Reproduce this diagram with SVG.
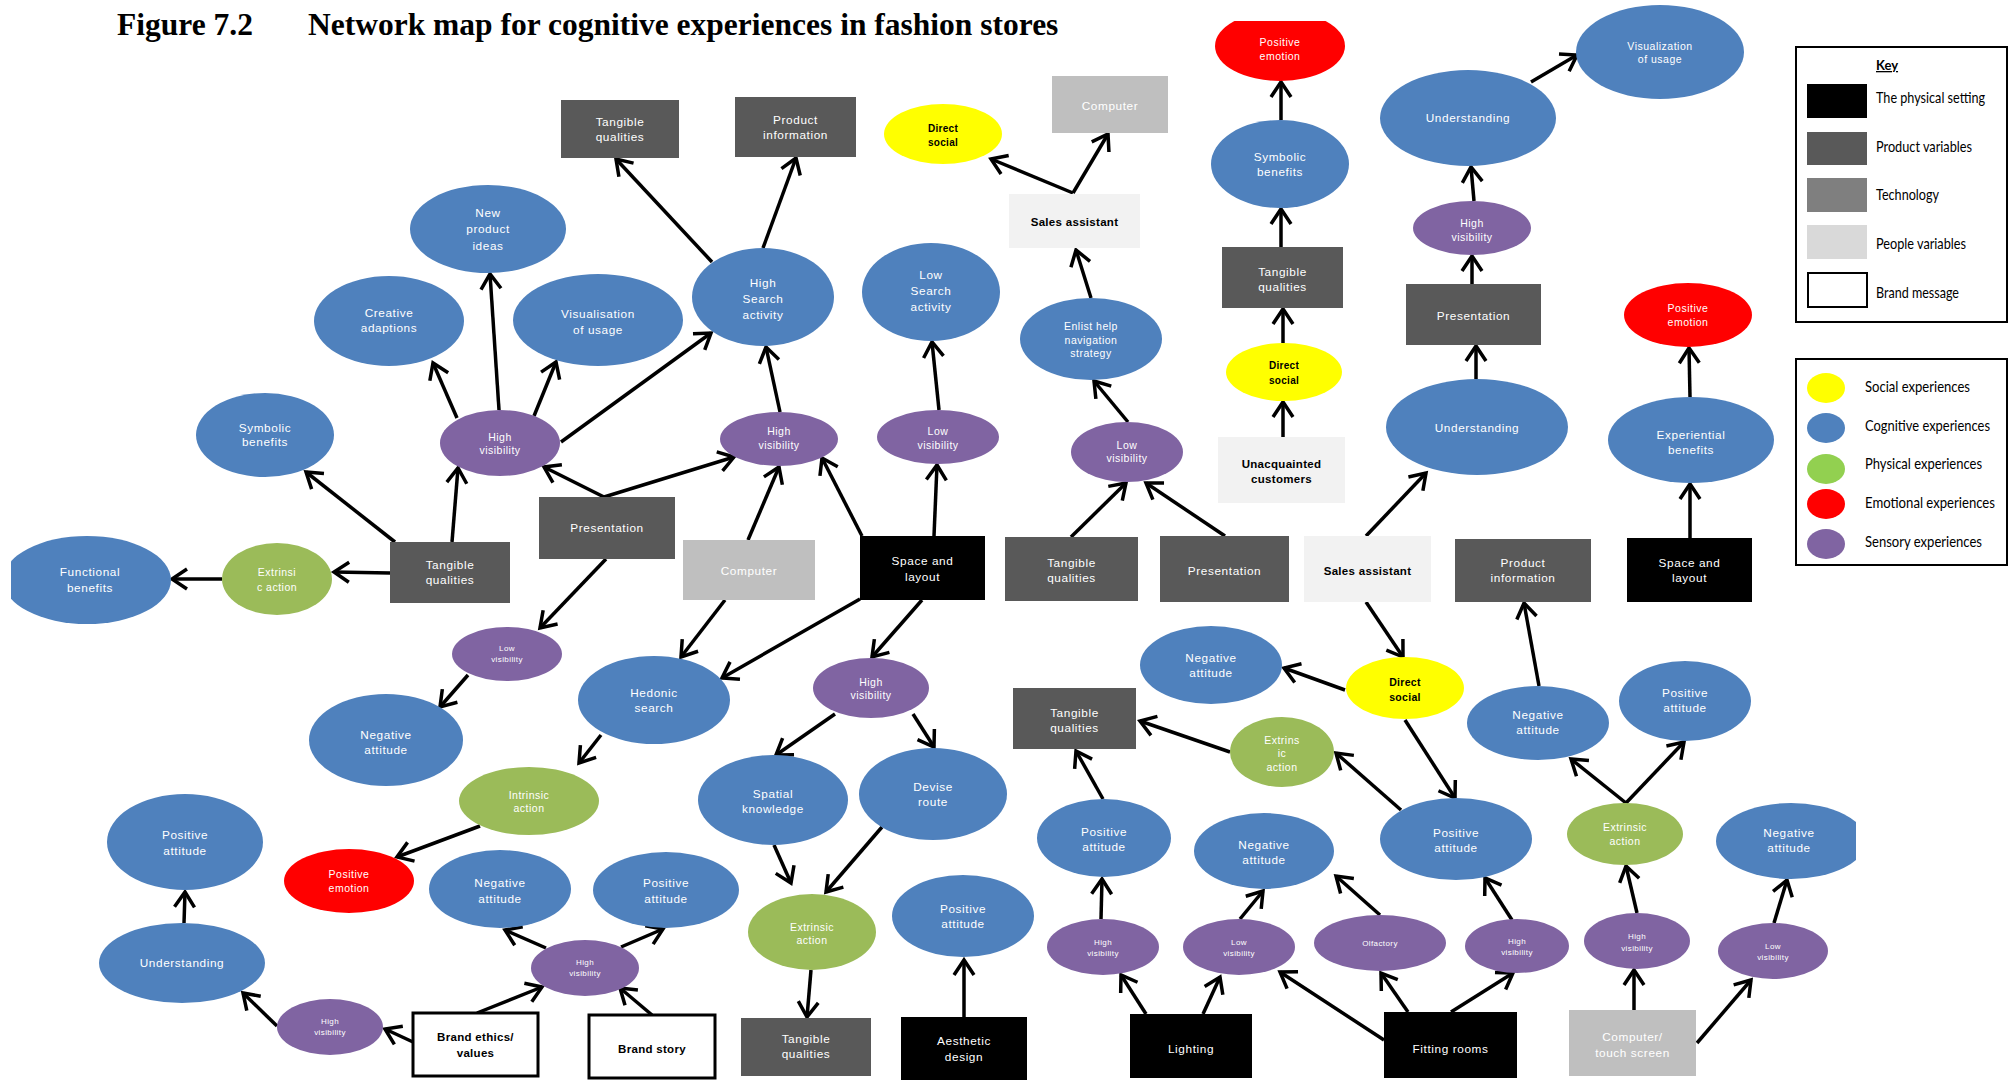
<svg xmlns="http://www.w3.org/2000/svg" width="2013" height="1081" viewBox="0 0 2013 1081">
<style>
  .b{fill:#4f81bd}.p{fill:#8064a2}.g{fill:#9bbb59}.r{fill:#ff0000}.y{fill:#ffff00}
  .pv{fill:#595959}.tech{fill:#bfbfbf}.ppl{fill:#f2f2f2}.phys{fill:#000}
  .brand{fill:#fff;stroke:#000;stroke-width:3}
  text{font-family:"Liberation Sans",Arial,sans-serif;text-anchor:middle}
  .t{fill:#fff;font-size:11.8px;letter-spacing:.6px}
  .ts{fill:#fff;font-size:10.5px;letter-spacing:.5px}
  .tt{fill:#fff;font-size:8px;letter-spacing:.4px}
  .d{fill:#000;font-size:11.5px;font-weight:bold;letter-spacing:.3px}
  .title{font-family:"Liberation Serif","Times New Roman",serif;font-weight:bold;font-size:31.5px;text-anchor:start;fill:#000}
  .lg{font-family:Lato,"Liberation Sans",sans-serif;font-size:15px;text-anchor:start;fill:#000}
  #connectors line{stroke:#000;stroke-width:3.5;fill:none;marker-end:url(#arr)}
</style>
<defs>
  <marker id="arr" markerUnits="userSpaceOnUse" viewBox="-20 -14 24 28" markerWidth="24" markerHeight="28" refX="0" refY="0" orient="auto" overflow="visible">
    <path d="M-15,-10 L0,0 L-15,10" fill="none" stroke="#000" stroke-width="3.5"/>
  </marker>
  <clipPath id="clipTop"><rect x="0" y="21" width="2013" height="1060"/></clipPath>
  <clipPath id="clipLeft"><rect x="11" y="0" width="2002" height="1081"/></clipPath>
  <clipPath id="clipRight"><rect x="0" y="0" width="1856" height="1081"/></clipPath>
</defs>

<rect width="2013" height="1081" fill="#fff"/>

<g id="title">
  <text class="title" x="117" y="35">Figure 7.2</text>
  <text class="title" x="308" y="35">Network map for cognitive experiences in fashion stores</text>
</g>

<!-- connectors -->
<g id="connectors">
  <line x1="712" y1="262" x2="616" y2="159"/>
  <line x1="763" y1="248" x2="796" y2="158"/>
  <line x1="1073" y1="193" x2="991" y2="159"/>
  <line x1="1073" y1="193" x2="1108" y2="134"/>
  <line x1="1091" y1="298" x2="1076" y2="250"/>
  <line x1="1281" y1="120" x2="1281" y2="82"/>
  <line x1="1281" y1="247" x2="1281" y2="209"/>
  <line x1="1283" y1="343" x2="1283" y2="309"/>
  <line x1="1283" y1="437" x2="1283" y2="402"/>
  <line x1="1474" y1="201" x2="1471" y2="167"/>
  <line x1="1472" y1="284" x2="1472" y2="256"/>
  <line x1="1476" y1="379" x2="1476" y2="346"/>
  <line x1="1531" y1="82" x2="1577" y2="55"/>
  <line x1="1690" y1="538" x2="1690" y2="484"/>
  <line x1="1690" y1="397" x2="1689" y2="348"/>
  <line x1="499" y1="410" x2="490" y2="274"/>
  <line x1="457" y1="418" x2="433" y2="363"/>
  <line x1="534" y1="416" x2="556" y2="362"/>
  <line x1="561" y1="442" x2="711" y2="333"/>
  <line x1="780" y1="412" x2="766" y2="347"/>
  <line x1="939" y1="410" x2="932" y2="342"/>
  <line x1="604" y1="497" x2="544" y2="467"/>
  <line x1="604" y1="497" x2="734" y2="457"/>
  <line x1="606" y1="559" x2="540" y2="628"/>
  <line x1="395" y1="542" x2="306" y2="472"/>
  <line x1="452" y1="542" x2="458" y2="468"/>
  <line x1="390" y1="573" x2="334" y2="572"/>
  <line x1="222" y1="579" x2="172" y2="579"/>
  <line x1="748" y1="540" x2="779" y2="467"/>
  <line x1="725" y1="600" x2="681" y2="657"/>
  <line x1="862" y1="536" x2="822" y2="458"/>
  <line x1="934" y1="536" x2="937" y2="465"/>
  <line x1="860" y1="599" x2="722" y2="678"/>
  <line x1="922" y1="600" x2="872" y2="657"/>
  <line x1="1128" y1="422" x2="1094" y2="381"/>
  <line x1="1071" y1="537" x2="1126" y2="483"/>
  <line x1="1225" y1="536" x2="1146" y2="483"/>
  <line x1="1366" y1="536" x2="1426" y2="473"/>
  <line x1="1366" y1="602" x2="1403" y2="657"/>
  <line x1="1345" y1="690" x2="1284" y2="668"/>
  <line x1="1539" y1="686" x2="1524" y2="603"/>
  <line x1="468" y1="675" x2="440" y2="707"/>
  <line x1="601" y1="735" x2="579" y2="763"/>
  <line x1="480" y1="826" x2="397" y2="857"/>
  <line x1="835" y1="714" x2="776" y2="755"/>
  <line x1="913" y1="714" x2="934" y2="747"/>
  <line x1="774" y1="845" x2="791" y2="883"/>
  <line x1="882" y1="827" x2="826" y2="892"/>
  <line x1="811" y1="970" x2="807" y2="1017"/>
  <line x1="964" y1="1017" x2="964" y2="960"/>
  <line x1="184" y1="923" x2="185" y2="892"/>
  <line x1="277" y1="1026" x2="243" y2="993"/>
  <line x1="413" y1="1042" x2="385" y2="1029"/>
  <line x1="477" y1="1013" x2="542" y2="987"/>
  <line x1="652" y1="1015" x2="620" y2="988"/>
  <line x1="546" y1="948" x2="505" y2="930"/>
  <line x1="621" y1="947" x2="663" y2="929"/>
  <line x1="1230" y1="752" x2="1140" y2="721"/>
  <line x1="1103" y1="799" x2="1076" y2="751"/>
  <line x1="1401" y1="810" x2="1336" y2="753"/>
  <line x1="1405" y1="720" x2="1455" y2="798"/>
  <line x1="1101" y1="919" x2="1102" y2="879"/>
  <line x1="1240" y1="919" x2="1263" y2="891"/>
  <line x1="1380" y1="915" x2="1336" y2="876"/>
  <line x1="1512" y1="920" x2="1485" y2="878"/>
  <line x1="1146" y1="1014" x2="1121" y2="975"/>
  <line x1="1203" y1="1014" x2="1220" y2="977"/>
  <line x1="1384" y1="1040" x2="1280" y2="972"/>
  <line x1="1408" y1="1012" x2="1381" y2="973"/>
  <line x1="1451" y1="1012" x2="1513" y2="973"/>
  <line x1="1626" y1="803" x2="1571" y2="759"/>
  <line x1="1626" y1="803" x2="1684" y2="742"/>
  <line x1="1637" y1="913" x2="1626" y2="866"/>
  <line x1="1774" y1="923" x2="1787" y2="880"/>
  <line x1="1634" y1="1010" x2="1634" y2="970"/>
  <line x1="1697" y1="1043" x2="1751" y2="980"/>
</g>

<!-- rectangular nodes: setting, product, technology, people, brand -->
<g id="tangible-1"><rect class="pv" x="561" y="100" width="118" height="58"/><text class="t"><tspan x="620" y="125.5">Tangible</tspan><tspan x="620" y="140.5">qualities</tspan></text></g>
<g id="product-info-1"><rect class="pv" x="735" y="97" width="121" height="60"/><text class="t"><tspan x="795.5" y="124">Product</tspan><tspan x="795.5" y="139">information</tspan></text></g>
<g id="computer-1"><rect class="tech" x="1052" y="76" width="116" height="57"/><text class="t" x="1110" y="110">Computer</text></g>
<g id="sales-assistant-1"><rect class="ppl" x="1009" y="194" width="131" height="54"/><text class="d" x="1074.5" y="226">Sales assistant</text></g>
<g id="tangible-2"><rect class="pv" x="1222" y="247" width="121" height="61"/><text class="t"><tspan x="1282.5" y="275.5">Tangible</tspan><tspan x="1282.5" y="290.5">qualities</tspan></text></g>
<g id="presentation-1"><rect class="pv" x="1406" y="284" width="135" height="61"/><text class="t" x="1473.5" y="319.5">Presentation</text></g>
<g id="tangible-3"><rect class="pv" x="390" y="542" width="120" height="61"/><text class="t"><tspan x="450" y="569">Tangible</tspan><tspan x="450" y="584">qualities</tspan></text></g>
<g id="presentation-2"><rect class="pv" x="539" y="497" width="136" height="62"/><text class="t" x="607" y="532">Presentation</text></g>
<g id="computer-2"><rect class="tech" x="683" y="540" width="132" height="60"/><text class="t" x="749" y="575">Computer</text></g>
<g id="space-layout-1"><rect class="phys" x="860" y="536" width="125" height="64"/><text class="t"><tspan x="922.5" y="565">Space and</tspan><tspan x="922.5" y="581">layout</tspan></text></g>
<g id="tangible-4"><rect class="pv" x="1005" y="537" width="133" height="64"/><text class="t"><tspan x="1071.5" y="567">Tangible</tspan><tspan x="1071.5" y="582">qualities</tspan></text></g>
<g id="presentation-3"><rect class="pv" x="1160" y="536" width="129" height="66"/><text class="t" x="1224.5" y="575">Presentation</text></g>
<g id="unacquainted"><rect class="ppl" x="1218" y="437" width="127" height="66"/><text class="d"><tspan x="1281.5" y="468">Unacquainted</tspan><tspan x="1281.5" y="483">customers</tspan></text></g>
<g id="sales-assistant-2"><rect class="ppl" x="1304" y="536" width="127" height="66"/><text class="d" x="1367.5" y="575">Sales assistant</text></g>
<g id="product-info-2"><rect class="pv" x="1455" y="539" width="136" height="63"/><text class="t"><tspan x="1523" y="567">Product</tspan><tspan x="1523" y="582">information</tspan></text></g>
<g id="space-layout-2"><rect class="phys" x="1627" y="538" width="125" height="64"/><text class="t"><tspan x="1689.5" y="567">Space and</tspan><tspan x="1689.5" y="582">layout</tspan></text></g>
<g id="tangible-5"><rect class="pv" x="1013" y="688" width="123" height="61"/><text class="t"><tspan x="1074.5" y="717">Tangible</tspan><tspan x="1074.5" y="732">qualities</tspan></text></g>
<g id="brand-ethics"><rect class="brand" x="413" y="1013" width="125" height="63"/><text class="d"><tspan x="475.5" y="1041">Brand ethics/</tspan><tspan x="475.5" y="1057">values</tspan></text></g>
<g id="brand-story"><rect class="brand" x="589" y="1015" width="126" height="63"/><text class="d" x="652" y="1053">Brand story</text></g>
<g id="tangible-6"><rect class="pv" x="741" y="1018" width="130" height="58"/><text class="t"><tspan x="806" y="1043">Tangible</tspan><tspan x="806" y="1058">qualities</tspan></text></g>
<g id="aesthetic-design"><rect class="phys" x="901" y="1017" width="126" height="63"/><text class="t"><tspan x="964" y="1045">Aesthetic</tspan><tspan x="964" y="1061">design</tspan></text></g>
<g id="lighting"><rect class="phys" x="1130" y="1014" width="122" height="64"/><text class="t" x="1191" y="1053">Lighting</text></g>
<g id="fitting-rooms"><rect class="phys" x="1384" y="1012" width="133" height="66"/><text class="t" x="1450.5" y="1053">Fitting rooms</text></g>
<g id="computer-touch"><rect class="tech" x="1569" y="1010" width="127" height="66"/><text class="t"><tspan x="1632.5" y="1041">Computer/</tspan><tspan x="1632.5" y="1057">touch screen</tspan></text></g>

<!-- experience nodes -->
<g id="new-product-ideas"><ellipse class="b" cx="488" cy="229" rx="78" ry="44"/><text class="t"><tspan x="488" y="217">New</tspan><tspan x="488" y="233">product</tspan><tspan x="488" y="250">ideas</tspan></text></g>
<g id="creative-adaptions"><ellipse class="b" cx="389" cy="321" rx="75" ry="45"/><text class="t"><tspan x="389" y="317">Creative</tspan><tspan x="389" y="332">adaptions</tspan></text></g>
<g id="visualisation-1"><ellipse class="b" cx="598" cy="320" rx="85" ry="46"/><text class="t"><tspan x="598" y="318">Visualisation</tspan><tspan x="598" y="334">of usage</tspan></text></g>
<g id="high-search"><ellipse class="b" cx="763" cy="297" rx="71" ry="49"/><text class="t"><tspan x="763" y="287">High</tspan><tspan x="763" y="303">Search</tspan><tspan x="763" y="319">activity</tspan></text></g>
<g id="low-search"><ellipse class="b" cx="931" cy="292" rx="69" ry="49"/><text class="t"><tspan x="931" y="279">Low</tspan><tspan x="931" y="295">Search</tspan><tspan x="931" y="311">activity</tspan></text></g>
<g id="direct-social-1"><ellipse class="y" cx="943" cy="134" rx="59" ry="30"/><text class="d" style="font-size:10px"><tspan x="943" y="132">Direct</tspan><tspan x="943" y="146">social</tspan></text></g>
<g id="enlist-help"><ellipse class="b" cx="1091" cy="339" rx="71" ry="41"/><text class="ts"><tspan x="1091" y="330">Enlist help</tspan><tspan x="1091" y="344">navigation</tspan><tspan x="1091" y="357">strategy</tspan></text></g>
<g id="positive-emotion-1"><ellipse class="r" cx="1280" cy="46" rx="65" ry="35" clip-path="url(#clipTop)"/><text class="ts"><tspan x="1280" y="46">Positive</tspan><tspan x="1280" y="60">emotion</tspan></text></g>
<g id="symbolic-benefits-1"><ellipse class="b" cx="1280" cy="164" rx="69" ry="44"/><text class="t"><tspan x="1280" y="161">Symbolic</tspan><tspan x="1280" y="176">benefits</tspan></text></g>
<g id="understanding-1"><ellipse class="b" cx="1468" cy="118" rx="88" ry="48"/><text class="t" x="1468" y="122">Understanding</text></g>
<g id="visualization-2"><ellipse class="b" cx="1660" cy="52" rx="84" ry="47"/><text class="ts"><tspan x="1660" y="50">Visualization</tspan><tspan x="1660" y="63">of usage</tspan></text></g>
<g id="high-visibility-1"><ellipse class="p" cx="1472" cy="228" rx="59" ry="27"/><text class="ts"><tspan x="1472" y="227">High</tspan><tspan x="1472" y="241">visibility</tspan></text></g>
<g id="direct-social-2"><ellipse class="y" cx="1284" cy="372" rx="58" ry="29"/><text class="d" style="font-size:10px"><tspan x="1284" y="369">Direct</tspan><tspan x="1284" y="384">social</tspan></text></g>
<g id="understanding-2"><ellipse class="b" cx="1477" cy="427" rx="91" ry="48"/><text class="t" x="1477" y="432">Understanding</text></g>
<g id="positive-emotion-2"><ellipse class="r" cx="1688" cy="315" rx="64" ry="32"/><text class="ts"><tspan x="1688" y="312">Positive</tspan><tspan x="1688" y="326">emotion</tspan></text></g>
<g id="experiential-benefits"><ellipse class="b" cx="1691" cy="440" rx="83" ry="43"/><text class="t"><tspan x="1691" y="439">Experiential</tspan><tspan x="1691" y="454">benefits</tspan></text></g>
<g id="symbolic-benefits-2"><ellipse class="b" cx="265" cy="435" rx="69" ry="42"/><text class="t"><tspan x="265" y="432">Symbolic</tspan><tspan x="265" y="446">benefits</tspan></text></g>
<g id="high-visibility-2"><ellipse class="p" cx="500" cy="443" rx="60" ry="33"/><text class="ts"><tspan x="500" y="441">High</tspan><tspan x="500" y="454">visibility</tspan></text></g>
<g id="high-visibility-3"><ellipse class="p" cx="779" cy="439" rx="59" ry="27"/><text class="ts"><tspan x="779" y="435">High</tspan><tspan x="779" y="449">visibility</tspan></text></g>
<g id="low-visibility-1"><ellipse class="p" cx="938" cy="437" rx="61" ry="27"/><text class="ts"><tspan x="938" y="435">Low</tspan><tspan x="938" y="449">visibility</tspan></text></g>
<g id="low-visibility-2"><ellipse class="p" cx="1127" cy="452" rx="56" ry="30"/><text class="ts"><tspan x="1127" y="449">Low</tspan><tspan x="1127" y="462">visibility</tspan></text></g>
<g id="functional-benefits"><ellipse class="b" cx="87" cy="580" rx="84" ry="44" clip-path="url(#clipLeft)"/><text class="t"><tspan x="90" y="576">Functional</tspan><tspan x="90" y="592">benefits</tspan></text></g>
<g id="extrinsic-action-1"><ellipse class="g" cx="277" cy="579" rx="55" ry="36"/><text class="ts"><tspan x="277" y="576">Extrinsi</tspan><tspan x="277" y="591">c action</tspan></text></g>
<g id="low-visibility-3"><ellipse class="p" cx="507" cy="654" rx="55" ry="27"/><text class="tt"><tspan x="507" y="651">Low</tspan><tspan x="507" y="662">visibility</tspan></text></g>
<g id="negative-attitude-1"><ellipse class="b" cx="386" cy="740" rx="77" ry="46"/><text class="t"><tspan x="386" y="739">Negative</tspan><tspan x="386" y="754">attitude</tspan></text></g>
<g id="hedonic-search"><ellipse class="b" cx="654" cy="700" rx="76" ry="44"/><text class="t"><tspan x="654" y="697">Hedonic</tspan><tspan x="654" y="712">search</tspan></text></g>
<g id="high-visibility-4"><ellipse class="p" cx="871" cy="688" rx="58" ry="30"/><text class="ts"><tspan x="871" y="686">High</tspan><tspan x="871" y="699">visibility</tspan></text></g>
<g id="negative-attitude-2"><ellipse class="b" cx="1211" cy="665" rx="71" ry="39"/><text class="t"><tspan x="1211" y="662">Negative</tspan><tspan x="1211" y="677">attitude</tspan></text></g>
<g id="direct-social-3"><ellipse class="y" cx="1405" cy="688" rx="59" ry="31"/><text class="d" style="font-size:10.5px"><tspan x="1405" y="686">Direct</tspan><tspan x="1405" y="701">social</tspan></text></g>
<g id="negative-attitude-3"><ellipse class="b" cx="1538" cy="723" rx="71" ry="37"/><text class="t"><tspan x="1538" y="719">Negative</tspan><tspan x="1538" y="734">attitude</tspan></text></g>
<g id="positive-attitude-1"><ellipse class="b" cx="1685" cy="701" rx="66" ry="40"/><text class="t"><tspan x="1685" y="697">Positive</tspan><tspan x="1685" y="712">attitude</tspan></text></g>
<g id="extrinsic-action-2"><ellipse class="g" cx="1282" cy="752" rx="52" ry="35"/><text class="ts"><tspan x="1282" y="744">Extrins</tspan><tspan x="1282" y="757">ic</tspan><tspan x="1282" y="771">action</tspan></text></g>
<g id="intrinsic-action"><ellipse class="g" cx="529" cy="801" rx="70" ry="34"/><text class="ts"><tspan x="529" y="799">Intrinsic</tspan><tspan x="529" y="812">action</tspan></text></g>
<g id="spatial-knowledge"><ellipse class="b" cx="773" cy="800" rx="75" ry="45"/><text class="t"><tspan x="773" y="798">Spatial</tspan><tspan x="773" y="813">knowledge</tspan></text></g>
<g id="devise-route"><ellipse class="b" cx="933" cy="794" rx="74" ry="46"/><text class="t"><tspan x="933" y="791">Devise</tspan><tspan x="933" y="806">route</tspan></text></g>
<g id="positive-attitude-2"><ellipse class="b" cx="185" cy="842" rx="78" ry="48"/><text class="t"><tspan x="185" y="839">Positive</tspan><tspan x="185" y="855">attitude</tspan></text></g>
<g id="positive-emotion-3"><ellipse class="r" cx="349" cy="881" rx="65" ry="32"/><text class="ts"><tspan x="349" y="878">Positive</tspan><tspan x="349" y="892">emotion</tspan></text></g>
<g id="negative-attitude-4"><ellipse class="b" cx="500" cy="889" rx="71" ry="39"/><text class="t"><tspan x="500" y="887">Negative</tspan><tspan x="500" y="903">attitude</tspan></text></g>
<g id="positive-attitude-3"><ellipse class="b" cx="666" cy="890" rx="73" ry="38"/><text class="t"><tspan x="666" y="887">Positive</tspan><tspan x="666" y="903">attitude</tspan></text></g>
<g id="extrinsic-action-3"><ellipse class="g" cx="812" cy="932" rx="64" ry="38"/><text class="ts"><tspan x="812" y="931">Extrinsic</tspan><tspan x="812" y="944">action</tspan></text></g>
<g id="positive-attitude-4"><ellipse class="b" cx="963" cy="916" rx="71" ry="41"/><text class="t"><tspan x="963" y="913">Positive</tspan><tspan x="963" y="928">attitude</tspan></text></g>
<g id="understanding-3"><ellipse class="b" cx="182" cy="963" rx="83" ry="40"/><text class="t" x="182" y="967">Understanding</text></g>
<g id="high-visibility-5"><ellipse class="p" cx="330" cy="1027" rx="53" ry="28"/><text class="tt"><tspan x="330" y="1024">High</tspan><tspan x="330" y="1035">visibility</tspan></text></g>
<g id="high-visibility-6"><ellipse class="p" cx="585" cy="968" rx="54" ry="28"/><text class="tt"><tspan x="585" y="965">High</tspan><tspan x="585" y="976">visibility</tspan></text></g>
<g id="positive-attitude-5"><ellipse class="b" cx="1104" cy="838" rx="67" ry="39"/><text class="t"><tspan x="1104" y="836">Positive</tspan><tspan x="1104" y="851">attitude</tspan></text></g>
<g id="negative-attitude-5"><ellipse class="b" cx="1264" cy="851" rx="70" ry="38"/><text class="t"><tspan x="1264" y="849">Negative</tspan><tspan x="1264" y="864">attitude</tspan></text></g>
<g id="positive-attitude-6"><ellipse class="b" cx="1456" cy="839" rx="76" ry="41"/><text class="t"><tspan x="1456" y="837">Positive</tspan><tspan x="1456" y="852">attitude</tspan></text></g>
<g id="extrinsic-action-4"><ellipse class="g" cx="1625" cy="834" rx="58" ry="31"/><text class="ts"><tspan x="1625" y="831">Extrinsic</tspan><tspan x="1625" y="845">action</tspan></text></g>
<g id="negative-attitude-6"><ellipse class="b" cx="1791" cy="841" rx="75" ry="38" clip-path="url(#clipRight)"/><text class="t"><tspan x="1789" y="837">Negative</tspan><tspan x="1789" y="852">attitude</tspan></text></g>
<g id="high-visibility-7"><ellipse class="p" cx="1103" cy="947" rx="56" ry="28"/><text class="tt"><tspan x="1103" y="945">High</tspan><tspan x="1103" y="956">visibility</tspan></text></g>
<g id="low-visibility-4"><ellipse class="p" cx="1239" cy="947" rx="56" ry="28"/><text class="tt"><tspan x="1239" y="945">Low</tspan><tspan x="1239" y="956">visibility</tspan></text></g>
<g id="olfactory"><ellipse class="p" cx="1380" cy="943" rx="66" ry="28"/><text class="tt" x="1380" y="946">Olfactory</text></g>
<g id="high-visibility-8"><ellipse class="p" cx="1517" cy="946" rx="52" ry="27"/><text class="tt"><tspan x="1517" y="944">High</tspan><tspan x="1517" y="955">visibility</tspan></text></g>
<g id="high-visibility-9"><ellipse class="p" cx="1637" cy="941" rx="53" ry="28"/><text class="tt"><tspan x="1637" y="939">High</tspan><tspan x="1637" y="951">visibility</tspan></text></g>
<g id="low-visibility-5"><ellipse class="p" cx="1773" cy="951" rx="55" ry="28"/><text class="tt"><tspan x="1773" y="949">Low</tspan><tspan x="1773" y="960">visibility</tspan></text></g>

<!-- key: element types -->
<g id="legend-key">
  <rect x="1796" y="47" width="211" height="275" fill="#fff" stroke="#000" stroke-width="2"/>
  <text class="lg" x="1876" y="70" style="font-weight:bold;font-size:13px;text-decoration:underline">Key</text>
  <rect x="1807" y="84" width="60" height="34" fill="#000"/>
  <rect x="1807" y="132" width="60" height="33" fill="#595959"/>
  <rect x="1807" y="178" width="60" height="34" fill="#7f7f7f"/>
  <rect x="1807" y="225" width="60" height="34" fill="#d9d9d9"/>
  <rect x="1808" y="273" width="59" height="34" fill="#fff" stroke="#000" stroke-width="2"/>
  <text class="lg" x="1876" y="103" textLength="109" lengthAdjust="spacingAndGlyphs">The physical setting</text>
  <text class="lg" x="1876" y="152" textLength="96" lengthAdjust="spacingAndGlyphs">Product variables</text>
  <text class="lg" x="1876" y="200" textLength="63" lengthAdjust="spacingAndGlyphs">Technology</text>
  <text class="lg" x="1876" y="249" textLength="90" lengthAdjust="spacingAndGlyphs">People variables</text>
  <text class="lg" x="1876" y="298" textLength="83" lengthAdjust="spacingAndGlyphs">Brand message</text>
</g>

<!-- key: experience types -->
<g id="legend-experiences">
  <rect x="1796" y="359" width="211" height="206" fill="#fff" stroke="#000" stroke-width="2"/>
  <ellipse cx="1826" cy="388" rx="19" ry="15" fill="#ffff00"/>
  <ellipse cx="1826" cy="428" rx="19" ry="15" fill="#4f81bd"/>
  <ellipse cx="1826" cy="469" rx="19" ry="15" fill="#92d050"/>
  <ellipse cx="1826" cy="504" rx="19" ry="15" fill="#ff0000"/>
  <ellipse cx="1826" cy="544" rx="19" ry="15" fill="#8064a2"/>
  <text class="lg" x="1865" y="392" textLength="105" lengthAdjust="spacingAndGlyphs">Social experiences</text>
  <text class="lg" x="1865" y="431" textLength="125" lengthAdjust="spacingAndGlyphs">Cognitive experiences</text>
  <text class="lg" x="1865" y="469" textLength="117" lengthAdjust="spacingAndGlyphs">Physical experiences</text>
  <text class="lg" x="1865" y="508" textLength="130" lengthAdjust="spacingAndGlyphs">Emotional experiences</text>
  <text class="lg" x="1865" y="547" textLength="117" lengthAdjust="spacingAndGlyphs">Sensory experiences</text>
</g>
</svg>
